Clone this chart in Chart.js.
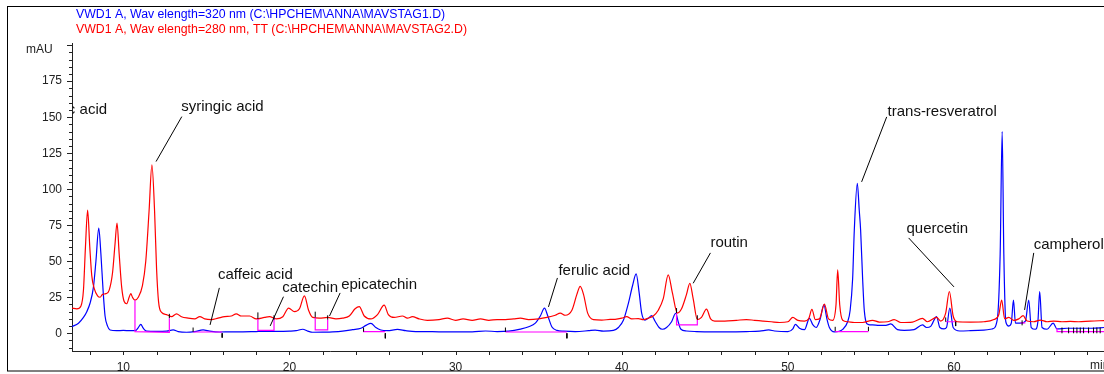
<!DOCTYPE html>
<html>
<head>
<meta charset="utf-8">
<script src="https://cdn.jsdelivr.net/npm/chart.js@4.4.1/dist/chart.umd.min.js"></script>
<style>
  html, body { margin: 0; padding: 0; background: #fff; }
  #wrap { width: 1104px; height: 374px; }
</style>
</head>
<body>
<div id="wrap"><canvas id="chrom" width="1104" height="374"></canvas></div>
<script>
// Retention time (min) / absorbance (mAU) pairs for both detector runs

const sig320 = [
  [6.91,4.6],[7.3,7],[7.6,11],[7.8,15],[8.0,21],[8.2,32],[8.35,50],[8.52,73],[8.65,55],[8.78,30],
  [8.9,12],[9.05,5],[9.2,2.3],[9.6,1.8],[10.0,2],[10.4,1.8],[10.75,2],[10.9,4],[11.05,6.2],[11.2,3.5],
  [11.4,1.5],[12.0,1.3],[12.6,1.5],[13.0,2.3],[13.3,1.2],[13.8,0.7],[14.3,1.2],[14.8,2.3],[15.2,1.5],[15.8,0.9],
  [16.5,1],[17.2,1],[18.0,1.2],[18.6,1.3],[19.3,1.3],[20.0,1.5],[20.4,1.8],[20.8,2.8],[21.1,1.5],[21.4,0.7],
  [22.0,0.8],[22.6,1],[23.2,1.5],[23.8,2.5],[24.3,3.5],[24.6,5.5],[24.9,6.9],[25.2,4],[25.5,2.3],[25.9,1.8],
  [26.5,2.7],[27.0,1.8],[27.6,1.2],[28.2,1.2],[29,1],[30,1],[31,1],[31.8,1.6],[32.5,1.2],[33.2,1.5],
  [33.9,2.9],[34.4,4.5],[34.8,7],[35.1,12],[35.35,17.4],[35.55,12],[35.8,4.4],[36.1,2],[36.5,1.5],[37.2,1.2],
  [38.0,1.8],[38.4,2.2],[38.9,1.5],[39.5,2],[39.8,4],[40.1,9],[40.4,20.8],[40.65,33],[40.87,41.2],[41.05,28],
  [41.2,14],[41.4,9.2],[41.6,10.5],[41.8,12.2],[42.0,8.5],[42.25,4],[42.45,2.8],[42.7,4],[43.0,8],[43.25,13.9],
  [43.4,8],[43.55,3],[43.9,1.6],[44.5,1.2],[45.5,1],[46.45,1],[47.5,1.2],[48.3,1.5],[48.85,2.3],[49.2,1.6],
  [50.0,1.1],[50.3,3],[50.45,6.2],[50.7,3.5],[51.0,2.5],[51.3,10.4],[51.5,6],[51.7,4],[51.95,10],[52.17,19.7],
  [52.35,10],[52.5,4],[52.8,1],[53.3,2.7],[53.6,8],[53.75,16],[53.9,38],[54.0,71.7],[54.18,104],[54.3,85],
  [54.38,71.7],[54.5,38],[54.6,16],[54.82,6.2],[55.1,5.8],[55.5,5.5],[55.9,5.5],[56.2,6.5],[56.6,2.5],[57.0,2],
  [57.6,2.5],[58.1,5.8],[58.35,4],[58.6,4.8],[58.95,11.6],[59.15,4],[59.4,3],[59.55,4],[59.75,17.4],[59.95,4],
  [60.35,1.6],[61,1.8],[61.8,2.2],[62.3,3],[62.6,9.2],[62.78,55],[62.9,140],[63.0,55],[63.12,8],[63.3,5],
  [63.45,7],[63.58,23.1],[63.7,7],[64.0,7],[64.3,8.5],[64.5,23.1],[64.65,4],[64.9,2.8],[65.05,8],[65.16,28.9],
  [65.3,4],[65.6,2.8],[65.97,7],[66.2,3],[66.8,3.5],[67.5,3.5],[68.3,3.5],[69.03,4]
];

const sig280 = [
  [6.91,17.5],[7.2,17],[7.45,19],[7.6,30],[7.72,60],[7.85,85.5],[7.98,60],[8.1,40],[8.25,31],[8.45,26],
  [8.6,25],[8.75,27],[8.95,27.5],[9.15,30],[9.35,42],[9.5,62],[9.62,76.5],[9.75,55],[9.9,32],[10.05,22],
  [10.2,20.5],[10.35,25],[10.45,27.5],[10.55,25],[10.7,23],[10.9,25],[11.15,33],[11.35,50],[11.55,85],[11.72,117],
  [11.88,85],[12.0,45],[12.12,22],[12.3,14.5],[12.6,13],[12.9,11.5],[13.2,13.5],[13.5,11.5],[13.9,10.5],[14.3,10],
  [14.6,11.5],[14.9,10],[15.3,9.5],[15.7,10.5],[16.1,11.5],[16.5,12],[16.8,13.5],[17.1,12],[17.6,12],[18.0,10],
  [18.5,11],[18.8,11.5],[19.2,10],[19.6,11.5],[19.95,17.5],[20.3,15],[20.6,17],[20.9,26],[21.15,16],[21.4,11],
  [21.8,10.5],[22.3,11],[22.8,10],[23.2,10.5],[23.6,12],[23.95,17],[24.2,18.5],[24.5,12],[24.9,10],[25.3,13],
  [25.7,19.5],[25.95,13],[26.3,11],[26.8,12],[27.1,10.5],[27.4,11.5],[27.8,10],[28.3,9],[29,9.5],[29.5,10.5],
  [30,9],[30.45,10],[31,9],[31.5,10],[32,9],[32.5,9.5],[33,9.5],[33.5,10],[33.9,10.5],[34.4,9.5],
  [35.0,10],[35.5,11],[36.0,12.5],[36.3,14],[36.6,12.5],[37.0,16],[37.3,27],[37.5,32.5],[37.7,27],[37.95,14],
  [38.3,9.5],[38.8,9.2],[39.3,9.6],[39.6,9.7],[40.0,10.5],[40.3,11.5],[40.6,10],[41.0,10.2],[41.3,9.5],[41.6,10.5],
  [41.9,12],[42.2,16],[42.5,24],[42.8,40.5],[43.05,28],[43.35,14],[43.6,17],[43.9,27],[44.1,34.7],[44.3,24],
  [44.55,9.5],[44.8,11],[45.1,16.7],[45.35,10],[45.6,8.5],[46.2,8.5],[46.9,9],[47.5,9.5],[48.0,9],[48.5,8.5],
  [49,8],[49.5,7.5],[50.0,8],[50.3,11],[50.6,9],[51.0,8.5],[51.25,10],[51.45,16.6],[51.65,9.5],[51.9,10],
  [52.2,20.3],[52.45,10],[52.7,9],[52.9,20],[53.0,44],[53.12,20],[53.3,9],[53.6,8],[54.0,7.5],[54.5,7.5],
  [55.1,9],[55.5,7.8],[56.0,8],[56.4,9.5],[56.8,7.5],[57.5,7.8],[58.1,10.4],[58.4,8],[58.95,11],[59.2,8.5],
  [59.5,14],[59.72,29],[59.95,12],[60.2,8],[61,7.8],[61.8,8],[62.4,9.5],[62.7,13],[62.87,23],[63.05,10],
  [63.3,11],[63.6,9],[63.9,10],[64.16,12.2],[64.4,8.5],[64.8,8],[65.2,9.2],[65.6,8],[66.0,8.5],[66.5,8],
  [67,8.2],[67.5,8],[68.2,8.5],[69.03,8.8]
];

// integration baselines (drop lines + base segments)
const baselines = [
  [[10.7,23],[10.7,1.1],[12.77,0.6],[12.77,10.4]],
  [[14.2,0.9],[15.95,0.9]],
  [[18.1,10],[18.1,2],[19.07,2],[19.07,11]],
  [[21.55,11],[21.55,2.3],[22.3,2.3],[22.3,9.5]],
  [[24.46,2.5],[24.46,1.1],[25.77,1.1]],
  [[33.0,0.9],[36.7,0.9]],
  [[43.3,13.9],[43.3,5.8],[44.55,5.8],[44.55,9.3]],
  [[52.85,1.1],[54.85,1.1]],
  [[59.5,8],[60.1,8]],
  [[64.0,7.2],[64.3,7.2]],
  [[66.2,3.5],[66.2,1.1],[69.03,1.1]]
];

// peak start/stop event marks: [time, from, to]
const eventTicks = [
  [12.77,10.5,13.5],[14.2,1,4],[15.95,0,-3],[18.1,10,14.5],[19.07,9.5,12.5],[21.55,11,15],[22.3,9.5,12.5],
  [24.46,1.1,4],[25.77,0,-3.5],[33.0,1,4],[36.7,0,-3.5],[43.3,14,17.5],[44.55,9.5,12.5],[52.85,1.5,4.5],
  [54.85,1.5,4.5],[59.5,8,11],[60.1,8,5],[64.1,5.5,9],
  [66.5,0,4],[66.9,0,4],[67.2,0,4],[67.4,0,4],[67.6,0,4],[67.8,0,4],[68.1,0,4],[68.4,0,4],[68.6,0,4],[68.8,0,4]
];

const peakNames = ['gallic acid','syringic acid','caffeic acid','catechin','epicatechin',
  'ferulic acid','routin','trans-resveratrol','quercetin','campherol'];

const signalTitles = [
  'VWD1 A, Wav elength=320 nm (C:\\HPCHEM\\ANNA\\MAVSTAG1.D)',
  'VWD1 A, Wav elength=280 nm, TT (C:\\HPCHEM\\ANNA\\MAVSTAG2.D)'
];
const xTickLabels = [10, 20, 30, 40, 50, 60];
const yTickLabels = [0, 25, 50, 75, 100, 125, 150, 175];

// callout placement in axis units: text anchor, leader line start/end
const callouts = {
  'gallic acid':       { at: [9.02, 155.1], align: 'right' },
  'syringic acid':     { at: [13.48, 157.2], line: [[13.52, 150.4], [11.97, 119.2]] },
  'caffeic acid':      { at: [15.70, 40.5],  line: [[15.78, 31.5],  [15.22, 5.8]] },
  'catechin':          { at: [19.56, 31.5],  line: [[19.64, 25.4],  [18.84, 5.1]] },
  'epicatechin':       { at: [23.11, 33.5],  line: [[23.05, 28],    [22.41, 12]] },
  'ferulic acid':      { at: [36.19, 43.5],  line: [[36.13, 38.4],  [35.59, 18.3]] },
  'routin':            { at: [45.34, 62.5],  line: [[45.34, 55.8],  [44.30, 34.7]] },
  'trans-resveratrol': { at: [56.0, 153.9],  line: [[55.95, 150.2], [54.44, 105.1]] },
  'quercetin':         { at: [57.14, 72.4],  line: [[57.27, 66.2],  [60.0, 32.2]] },
  'campherol':         { at: [64.80, 61.3],  line: [[64.80, 55.8],  [64.25, 16.2]] }
};

const FONT = '"Liberation Sans", Arial, sans-serif';
const toXY = pts => pts.map(([x, y]) => ({ x, y }));

function joinSegments(segs) {
  const out = [];
  segs.forEach((seg, i) => {
    if (i > 0) out.push({ x: seg[0][0], y: null });
    seg.forEach(([x, y]) => out.push({ x, y }));
  });
  return out;
}

const tickSegs = eventTicks.map(([t, a, b]) => [[t, a], [t, b]]);

const decorations = {
  id: 'decorations',
  afterDraw(chart) {
    const { ctx, chartArea: a, scales: { x, y } } = chart;
    ctx.save();

    // outer frame
    ctx.strokeStyle = '#000';
    ctx.lineWidth = 1;
    ctx.strokeRect(7.5, 6.5, 1200, 364.5);

    // axis tick marks
    ctx.strokeStyle = '#222';
    ctx.beginPath();
    for (let v = -10; v <= 200; v += 5) {
      const py = Math.round(y.getPixelForValue(v)) + 0.5;
      const len = v % 25 === 0 ? 5 : 3;
      ctx.moveTo(a.left - len, py);
      ctx.lineTo(a.left, py);
    }
    for (let t = 8; t <= 68; t += 2) {
      const px = Math.round(x.getPixelForValue(t)) + 0.5;
      ctx.moveTo(px, a.bottom);
      ctx.lineTo(px, a.bottom + 4);
    }
    ctx.stroke();

    // signal titles
    ctx.font = '12.3px ' + FONT;
    ctx.textBaseline = 'middle';
    ctx.textAlign = 'left';
    ctx.fillStyle = '#0000ff';
    ctx.fillText(signalTitles[0], 76, 15);
    ctx.fillStyle = '#ff0000';
    ctx.fillText(signalTitles[1], 76, 29.5);

    // axis units
    ctx.font = '12px ' + FONT;
    ctx.fillStyle = '#222';
    ctx.fillText('mAU', 26, 49.5);
    ctx.fillText('min', 1090, 366);

    // peak callouts, clipped to the plot area
    ctx.beginPath();
    ctx.rect(a.left, a.top, a.right - a.left, a.bottom - a.top);
    ctx.clip();
    ctx.strokeStyle = '#000';
    ctx.fillStyle = '#111';
    ctx.font = '15px ' + FONT;
    peakNames.forEach(name => {
      const c = callouts[name];
      if (c.line) {
        const [p, q] = c.line;
        ctx.beginPath();
        ctx.moveTo(x.getPixelForValue(p[0]), y.getPixelForValue(p[1]));
        ctx.lineTo(x.getPixelForValue(q[0]), y.getPixelForValue(q[1]));
        ctx.stroke();
      }
      ctx.textAlign = c.align || 'left';
      ctx.fillText(name, x.getPixelForValue(c.at[0]), y.getPixelForValue(c.at[1]));
    });
    ctx.restore();
  }
};

new Chart(document.getElementById('chrom'), {
  type: 'line',
  data: {
    datasets: [
      { data: joinSegments(tickSegs), borderColor: '#000', borderWidth: 1, spanGaps: false, tension: 0, order: 0 },
      { data: joinSegments(baselines), borderColor: '#ff00ff', borderWidth: 1.2, spanGaps: false, tension: 0, order: 1 },
      { data: toXY(sig280), borderColor: '#ff0000', borderWidth: 1.2, cubicInterpolationMode: 'monotone', order: 2 },
      { data: toXY(sig320), borderColor: '#0000ff', borderWidth: 1.2, cubicInterpolationMode: 'monotone', order: 3 }
    ]
  },
  options: {
    responsive: false,
    animation: false,
    layout: { padding: { left: 7, top: 43, right: 0, bottom: 3 } },
    elements: { point: { radius: 0 } },
    plugins: { legend: { display: false }, tooltip: { enabled: false } },
    scales: {
      x: {
        type: 'linear', min: 6.91, max: 69.03,
        afterFit: s => { s.height = 20; s.paddingLeft = 0; s.paddingRight = 0; },
        border: { color: '#222' },
        grid: { drawOnChartArea: false, drawTicks: true, tickLength: 4, tickColor: 'transparent' },
        ticks: {
          stepSize: 2, autoSkip: false, maxRotation: 0, padding: 5, color: '#222',
          font: { family: FONT, size: 12 },
          callback: v => xTickLabels.includes(Math.round(v * 1000) / 1000) ? String(v) : ''
        }
      },
      y: {
        min: -12.3, max: 201.5,
        afterFit: s => { s.width = 65; s.paddingTop = 0; s.paddingBottom = 0; },
        border: { color: '#222' },
        grid: { drawOnChartArea: false, drawTicks: true, tickLength: 5, tickColor: 'transparent' },
        ticks: {
          stepSize: 5, autoSkip: false, padding: 5, color: '#222',
          font: { family: FONT, size: 12 },
          callback: v => yTickLabels.includes(Math.round(v * 1000) / 1000) ? String(v) : ''
        }
      }
    }
  },
  plugins: [decorations]
});
</script>
</body>
</html>
